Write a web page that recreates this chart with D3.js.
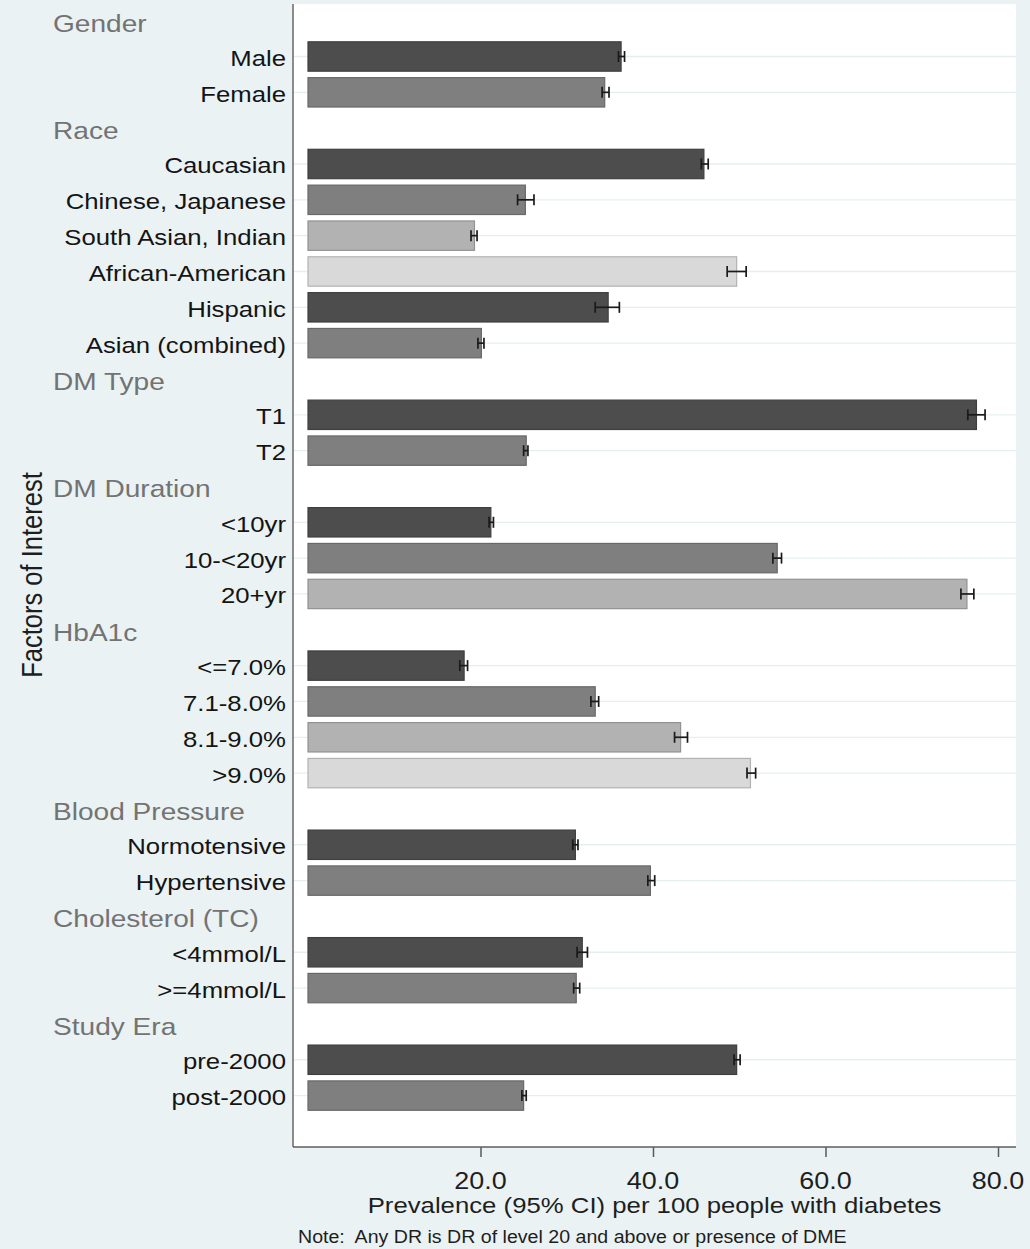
<!DOCTYPE html>
<html>
<head>
<meta charset="utf-8">
<script src="https://cdn.jsdelivr.net/npm/d3@7"></script>
<style>
  html, body { margin: 0; padding: 0; background: #eaf2f3; }
  svg { display: block; }
  text { font-family: "Liberation Sans", Arial, sans-serif; }
</style>
</head>
<body>
<svg id="chart" width="1030" height="1249"></svg>
<script>
// ---------------- data ----------------
const groupNames = ["Gender", "Race", "DM Type", "DM Duration", "HbA1c", "Blood Pressure", "Cholesterol (TC)", "Study Era"];
const categoryLabels = [
  "Male", "Female",
  "Caucasian", "Chinese, Japanese", "South Asian, Indian", "African-American", "Hispanic", "Asian (combined)",
  "T1", "T2",
  "<10yr", "10-<20yr", "20+yr",
  "<=7.0%", "7.1-8.0%", "8.1-9.0%", ">9.0%",
  "Normotensive", "Hypertensive",
  "<4mmol/L", ">=4mmol/L",
  "pre-2000", "post-2000"
];
const categoryGroup = [0, 0, 1, 1, 1, 1, 1, 1, 2, 2, 3, 3, 3, 4, 4, 4, 4, 5, 5, 6, 6, 7, 7];
const prevalence = [36.3, 34.4, 45.9, 25.2, 19.3, 49.7, 34.8, 20.1, 77.5, 25.3, 21.2, 54.4, 76.4, 18.1, 33.3, 43.2, 51.3, 31.0, 39.7, 31.8, 31.1, 49.7, 25.0];
const ciLower    = [36.0, 34.1, 45.6, 24.3, 18.9, 48.6, 33.3, 19.7, 76.5, 25.0, 21.0, 53.9, 75.7, 17.6, 32.8, 42.5, 50.9, 30.7, 39.4, 31.2, 30.8, 49.4, 24.8];
const ciUpper    = [36.7, 34.9, 46.4, 26.2, 19.6, 50.8, 36.1, 20.4, 78.5, 25.5, 21.5, 54.9, 77.2, 18.5, 33.7, 44.0, 51.9, 31.3, 40.2, 32.4, 31.5, 50.1, 25.3];
const xTicks = [20, 40, 60, 80];
const xTickLabels = ["20.0", "40.0", "60.0", "80.0"];
const xTitle = "Prevalence (95% CI) per 100 people with diabetes";
const yTitle = "Factors of Interest";
const noteText = "Note:  Any DR is DR of level 20 and above or presence of DME";

// ---------------- layout ----------------
const barShades = ["#4d4d4d", "#7f7f7f", "#b2b2b2", "#d9d9d9"];
const SX = 1.17; // horizontal text stretch of the original
const plot = { left: 293, right: 1016, top: 4, bottom: 1147 };

// build row list: header row then item rows for each group
const rows = [];
groupNames.forEach((g, gi) => {
  rows.push({ id: "h" + gi, type: "header", label: g });
  let k = 0;
  categoryLabels.forEach((c, i) => {
    if (categoryGroup[i] === gi) {
      rows.push({ id: "i" + i, type: "item", label: c, value: prevalence[i], lo: ciLower[i], hi: ciUpper[i], shade: barShades[k % 4] });
      k++;
    }
  });
});

const x = d3.scaleLinear().domain([0, 80]).range([308, 998]);
const y = d3.scaleBand().domain(rows.map(r => r.id)).range([2.75, 1113.5]).paddingInner(0.18).paddingOuter(0.09);

const svg = d3.select("#chart");
svg.append("rect").attr("width", 1030).attr("height", 1249).attr("fill", "#eaf2f3");
svg.append("rect")
  .attr("x", plot.left).attr("y", plot.top)
  .attr("width", plot.right - plot.left).attr("height", plot.bottom - plot.top)
  .attr("fill", "#ffffff");

const items = rows.filter(r => r.type === "item");
const headers = rows.filter(r => r.type === "header");

// gridlines
svg.append("g").selectAll("line").data(items).join("line")
  .attr("x1", plot.left).attr("x2", plot.right)
  .attr("y1", d => y(d.id) + y.bandwidth() / 2).attr("y2", d => y(d.id) + y.bandwidth() / 2)
  .attr("stroke", "#e6eff0").attr("stroke-width", 1.3);

// bars
svg.append("g").selectAll("rect").data(items).join("rect")
  .attr("x", x(0)).attr("y", d => y(d.id))
  .attr("width", d => x(d.value) - x(0)).attr("height", y.bandwidth())
  .attr("fill", d => d.shade)
  .attr("stroke", d => d3.color(d.shade).darker(0.55).formatHex())
  .attr("stroke-width", 1.2);

// error bars
const eg = svg.append("g").attr("stroke", "#1a1a1a").attr("stroke-width", 1.7);
items.forEach(d => {
  const cy = y(d.id) + y.bandwidth() / 2;
  eg.append("line").attr("x1", x(d.lo)).attr("x2", x(d.hi)).attr("y1", cy).attr("y2", cy);
  eg.append("line").attr("x1", x(d.lo)).attr("x2", x(d.lo)).attr("y1", cy - 5.5).attr("y2", cy + 5.5);
  eg.append("line").attr("x1", x(d.hi)).attr("x2", x(d.hi)).attr("y1", cy - 5.5).attr("y2", cy + 5.5);
});

// axes lines
svg.append("line").attr("x1", plot.left).attr("x2", plot.left).attr("y1", plot.top).attr("y2", plot.bottom)
  .attr("stroke", "#707070").attr("stroke-width", 1.6);

const xAxis = d3.axisBottom(x).tickValues(xTicks).tickSize(10).tickPadding(0).tickFormat((d, i) => xTickLabels[i]);
const gx = svg.append("g").attr("transform", `translate(0,${plot.bottom})`).call(xAxis);
gx.select(".domain").remove();
gx.selectAll(".tick line").attr("stroke", "#5a5a5a").attr("stroke-width", 1.5);
gx.selectAll(".tick text").remove();
svg.append("line").attr("x1", plot.left).attr("x2", plot.right).attr("y1", plot.bottom).attr("y2", plot.bottom)
  .attr("stroke", "#5e5e5e").attr("stroke-width", 1.6);

// tick labels (stretched)
svg.append("g").selectAll("text").data(xTicks).join("text")
  .attr("transform", d => `translate(${x(d)},1189) scale(${SX},1)`)
  .attr("text-anchor", "middle").attr("font-size", 23).attr("fill", "#1e1e1e")
  .text((d, i) => xTickLabels[i]);

// item labels
svg.append("g").selectAll("text").data(items).join("text")
  .attr("transform", d => `translate(286,${y(d.id) + y.bandwidth() / 2 + 9.5}) scale(${SX},1)`)
  .attr("text-anchor", "end").attr("font-size", 22).attr("fill", "#141414")
  .text(d => d.label);

// group headers
svg.append("g").selectAll("text").data(headers).join("text")
  .attr("font-size", 24).attr("fill", "#737373")
  .attr("transform", d => `translate(53,${y(d.id) + y.bandwidth() / 2 + 11}) scale(${SX},1)`)
  .text(d => d.label);

// x title
svg.append("text")
  .attr("transform", `translate(${(plot.left + plot.right) / 2},1213) scale(${SX},1)`)
  .attr("text-anchor", "middle").attr("font-size", 22).attr("fill", "#1e1e1e")
  .text(xTitle);

// y title
svg.append("text")
  .attr("transform", `translate(41.5,575) scale(${SX},1) rotate(-90)`)
  .attr("text-anchor", "middle").attr("font-size", 25.5).attr("fill", "#1e1e1e")
  .text(yTitle);

// note
svg.append("text")
  .attr("transform", `translate(298,1243) scale(1.12,1)`)
  .attr("font-size", 17.5).attr("fill", "#1e1e1e")
  .style("white-space", "pre")
  .text(noteText);
</script>
</body>
</html>
